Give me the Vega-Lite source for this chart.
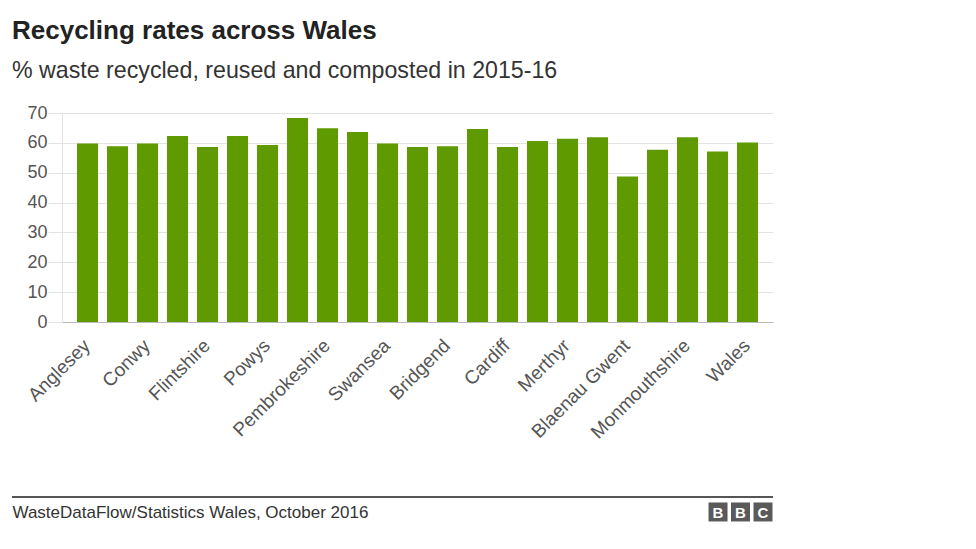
{
  "$schema": "https://vega.github.io/schema/vega-lite/v6.json",
  "width": 711,
  "height": 209,
  "autosize": {"type": "none"},
  "padding": {"left": 62, "top": 113, "right": 203, "bottom": 227},
  "background": "white",
  "config": {"font": "Liberation Sans", "view": {"stroke": null}},
  "title": {
    "text": "Recycling rates across Wales",
    "subtitle": "% waste recycled, reused and composted in 2015-16",
    "anchor": "start",
    "frame": "group",
    "dx": -50,
    "offset": 22,
    "fontSize": 26,
    "fontWeight": "bold",
    "color": "#222",
    "subtitleFontSize": 23.2,
    "subtitleColor": "#333",
    "subtitlePadding": 16
  },
  "layer": [
    {
      "data": {"values": [
        {"area": "Anglesey", "rate": 59.8},
        {"area": "Gwynedd", "rate": 58.9},
        {"area": "Conwy", "rate": 59.8},
        {"area": "Denbighshire", "rate": 62.3},
        {"area": "Flintshire", "rate": 58.6},
        {"area": "Wrexham", "rate": 62.3},
        {"area": "Powys", "rate": 59.3},
        {"area": "Ceredigion", "rate": 68.3},
        {"area": "Pembrokeshire", "rate": 64.9},
        {"area": "Carmarthenshire", "rate": 63.6},
        {"area": "Swansea", "rate": 59.8},
        {"area": "Neath Port Talbot", "rate": 58.6},
        {"area": "Bridgend", "rate": 58.9},
        {"area": "Vale of Glamorgan", "rate": 64.6},
        {"area": "Cardiff", "rate": 58.6},
        {"area": "Rhondda Cynon Taf", "rate": 60.6},
        {"area": "Merthyr", "rate": 61.4},
        {"area": "Caerphilly", "rate": 61.9},
        {"area": "Blaenau Gwent", "rate": 48.7},
        {"area": "Torfaen", "rate": 57.7},
        {"area": "Monmouthshire", "rate": 61.9},
        {"area": "Newport", "rate": 57.1},
        {"area": "Wales", "rate": 60.1}
      ]},
      "mark": {"type": "bar", "color": "#5f9b00"},
      "encoding": {
        "x": {
          "field": "area", "type": "nominal", "sort": null,
          "scale": {"paddingInner": 0.3, "paddingOuter": 0.5},
          "axis": {
            "values": ["Anglesey", "Conwy", "Flintshire", "Powys", "Pembrokeshire", "Swansea", "Bridgend", "Cardiff", "Merthyr", "Blaenau Gwent", "Monmouthshire", "Wales"],
            "labelAngle": -45,
            "labelFontSize": 19,
            "labelColor": "#555",
            "labelPadding": 14,
            "labelOffset": -7,
            "ticks": false,
            "domainColor": "#bbb",
            "grid": false,
            "title": "WasteDataFlow/Statistics Wales, October 2016",
            "titleX": -50,
            "titleY": 195,
            "titleAlign": "left",
            "titleAnchor": "start",
            "titleBaseline": "alphabetic",
            "titleFontSize": 17,
            "titleFontWeight": "normal",
            "titleColor": "#333"
          }
        },
        "y": {
          "field": "rate", "type": "quantitative",
          "scale": {"domain": [0, 70], "nice": false},
          "axis": {
            "values": [0, 10, 20, 30, 40, 50, 60, 70],
            "title": null,
            "tickSize": 14,
            "tickColor": "#e3e3e3",
            "domainColor": "#e3e3e3",
            "gridColor": "#e3e3e3",
            "labelFontSize": 18,
            "labelColor": "#555",
            "labelPadding": 1
          }
        }
      }
    },
    {
      "data": {"values": [
        {"letter": "B", "box": 1},
        {"letter": "B", "box": 2},
        {"letter": "C", "box": 3}
      ]},
      "layer": [
        {
          "mark": {"type": "rule", "color": "#555", "strokeWidth": 2},
          "encoding": {
            "x": {"datum": -30.38, "type": "quantitative", "scale": {"domain": [-28.16, 3.444], "nice": false, "zero": false}, "axis": null},
            "x2": {"datum": 3.444},
            "y": {"datum": -0.837, "type": "quantitative", "scale": {"domain": [0, 1], "nice": false, "zero": false}, "axis": null}
          }
        },
        {
          "mark": {"type": "square", "color": "#5a5a5a", "opacity": 1, "size": 361},
          "encoding": {
            "x": {"field": "box", "type": "quantitative", "scale": {"domain": [-28.16, 3.444], "nice": false, "zero": false}, "axis": null},
            "y": {"datum": -0.909, "type": "quantitative", "scale": {"domain": [0, 1], "nice": false, "zero": false}, "axis": null}
          }
        },
        {
          "mark": {"type": "text", "color": "white", "fontWeight": "bold", "fontSize": 15, "baseline": "middle", "align": "center", "dy": 1},
          "encoding": {
            "x": {"field": "box", "type": "quantitative", "scale": {"domain": [-28.16, 3.444], "nice": false, "zero": false}, "axis": null},
            "y": {"datum": -0.909, "type": "quantitative", "scale": {"domain": [0, 1], "nice": false, "zero": false}, "axis": null},
            "text": {"field": "letter"}
          }
        }
      ]
    }
  ],
  "resolve": {"scale": {"x": "independent", "y": "independent"}}
}
